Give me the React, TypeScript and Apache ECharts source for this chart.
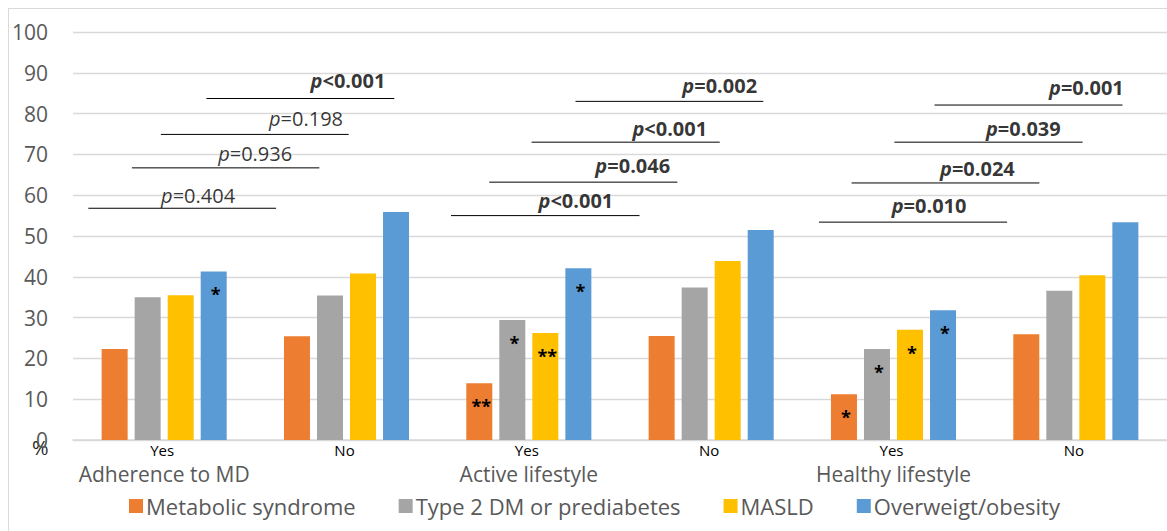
import React, { useEffect, useRef } from "react";
import * as echarts from "echarts";

const categories = ["Yes", "No", "Yes", "No", "Yes", "No"];
const groupLabels = ["Adherence to MD", "", "Active lifestyle", "", "Healthy lifestyle", ""];
const seriesNames = ["Metabolic syndrome", "Type 2 DM or prediabetes", "MASLD", "Overweigt/obesity"];
const seriesColors = ["#ED7D31", "#A5A5A5", "#FFC000", "#5B9BD5"];

const metabolic = [22.3, 25.4, 13.9, 25.5, 11.2, 25.9];
const diabetes = [35.0, 35.4, 29.4, 37.4, 22.3, 36.6];
const masld = [35.5, 40.8, 26.2, 43.9, 27.0, 40.4];
const overweight = [41.3, 55.9, 42.1, 51.5, 31.8, 53.4];

const metabolicMarks = ["", "", "**", "", "*", ""];
const diabetesMarks = ["", "", "*", "", "*", ""];
const masldMarks = ["", "", "**", "", "*", ""];
const overweightMarks = ["*", "", "*", "", "*", ""];

// p-value brackets, in category-index units (x) and % (y)
const bracketY = [56.8, 66.7, 74.9, 83.7, 55.0, 63.2, 73.0, 83.0, 53.4, 63.0, 73.0, 82.1];
const bracketX1 = [-0.416, -0.177, -0.018, 0.232, 1.573, 1.783, 2.015, 2.256, 3.591, 3.770, 4.005, 4.225];
const bracketX2 = [0.614, 0.851, 1.012, 1.262, 2.607, 2.815, 3.047, 3.286, 4.623, 4.800, 5.037, 5.256];
const pTexts = ["=0.404", "=0.936", "=0.198", "<0.001", "<0.001", "=0.046", "<0.001", "=0.002", "=0.010", "=0.024", "=0.039", "=0.001"];
const pBold = [false, false, false, true, true, true, true, true, true, true, true, true];
const pLabelX = [0.186, 0.499, 0.778, 1.008, 2.258, 2.570, 2.773, 3.047, 4.195, 4.460, 4.712, 5.058];
const pLabelY = [60.0, 70.1, 78.9, 88.1, 58.8, 67.4, 76.4, 86.8, 57.4, 66.6, 76.4, 86.4];

const yTicks = { min: 0, max: 100, interval: 10 };

const FONT = "'Open Sans', 'Liberation Sans', sans-serif";

export default function App() {
  const ref = useRef<HTMLDivElement>(null);

  useEffect(() => {
    if (!ref.current) return;
    const chart = echarts.init(ref.current, null, { renderer: "svg" });

    const values = [metabolic, diabetes, masld, overweight];
    const marks = [metabolicMarks, diabetesMarks, masldMarks, overweightMarks];

    const barSeries = values.map((vals, si) => ({
      name: seriesNames[si],
      type: "bar",
      xAxisIndex: 0,
      yAxisIndex: 0,
      barWidth: 26,
      barGap: "27%",
      itemStyle: { color: seriesColors[si] },
      label: {
        show: true,
        position: "insideTop",
        distance: 14,
        offset: [2, 0],
        fontFamily: FONT,
        fontSize: 18,
        fontWeight: "bold",
        color: "#000",
        formatter: (p: any) => marks[si][p.dataIndex],
      },
      data: vals,
    }));

    const bracketSeries = bracketY.map((y, i) => ({
      type: "line",
      xAxisIndex: 2,
      yAxisIndex: 0,
      symbol: "none",
      silent: true,
      lineStyle: { color: "#000", width: 1 },
      data: [
        [bracketX1[i], y],
        [bracketX2[i], y],
      ],
    }));

    const labelSeries = {
      type: "scatter",
      xAxisIndex: 2,
      yAxisIndex: 0,
      symbolSize: 0,
      silent: true,
      data: pLabelX.map((x, i) => ({
        value: [x, pLabelY[i]],
        label: {
          show: true,
          position: "inside",
          formatter: pBold[i] ? `{ib|p}{b|${pTexts[i]}}` : `{i|p}{n|${pTexts[i]}}`,
          rich: {
            i: { fontFamily: FONT, fontSize: 20, fontStyle: "italic", color: "#000" },
            n: { fontFamily: FONT, fontSize: 20, color: "#000" },
            ib: { fontFamily: FONT, fontSize: 20, fontStyle: "italic", fontWeight: "bold", color: "#000" },
            b: { fontFamily: FONT, fontSize: 20, fontWeight: "bold", color: "#000" },
          },
        },
      })),
    };

    chart.setOption({
      animation: false,
      backgroundColor: "#fff",
      textStyle: { fontFamily: FONT },
      grid: { left: 73, right: 0, top: 32, bottom: 91, containLabel: false },
      legend: {
        data: seriesNames,
        left: 124,
        top: 490,
        itemWidth: 14,
        itemHeight: 14,
        itemGap: 43,
        icon: "rect",
        textStyle: { fontFamily: FONT, fontSize: 22, color: "#595959", lineHeight: 22, padding: [0, 0, 0, -2] },
        selectedMode: false,
      },
      xAxis: [
        {
          type: "category",
          data: categories,
          axisLine: { lineStyle: { color: "#D9D9D9", width: 1.5 } },
          axisTick: { show: false },
          axisLabel: { interval: 0, margin: 3, fontFamily: FONT, fontSize: 15, lineHeight: 14, color: "#000", padding: [0, 4, 0, 0] },
        },
        {
          type: "category",
          data: groupLabels,
          position: "bottom",
          axisLine: { show: false },
          axisTick: { show: false },
          axisLabel: { interval: 0, margin: 25, fontFamily: FONT, fontSize: 21, lineHeight: 18, color: "#595959" },
        },
        {
          type: "value",
          min: -0.5,
          max: 5.5,
          show: false,
        },
      ],
      yAxis: {
        type: "value",
        min: yTicks.min,
        max: yTicks.max,
        interval: yTicks.interval,
        axisLine: { show: false },
        axisTick: { show: false },
        splitLine: { lineStyle: { color: "#D9D9D9", width: 1.3 } },
        axisLabel: { margin: 25, fontFamily: FONT, fontSize: 21, color: "#595959" },
      },
      graphic: [
        {
          type: "text",
          left: 32,
          top: 437,
          silent: true,
          style: { text: "%", fontFamily: FONT, fontSize: 20, fill: "#262626" },
        },
      ],
      series: [...barSeries, ...bracketSeries, labelSeries],
    });

    return () => chart.dispose();
  }, []);

  return (
    <div style={{ position: "fixed", left: 0, top: 0, width: 1167, height: 531, background: "#fff" }}>
      <div ref={ref} style={{ position: "absolute", left: 0, top: 0, width: 1167, height: 531 }} />
      <div
        style={{
          position: "absolute",
          left: 8,
          top: 8,
          width: 1159,
          height: 523,
          borderTop: "1.5px solid #D9D9D9",
          borderLeft: "1.5px solid #D9D9D9",
          pointerEvents: "none",
          boxSizing: "border-box",
        }}
      />
    </div>
  );
}
